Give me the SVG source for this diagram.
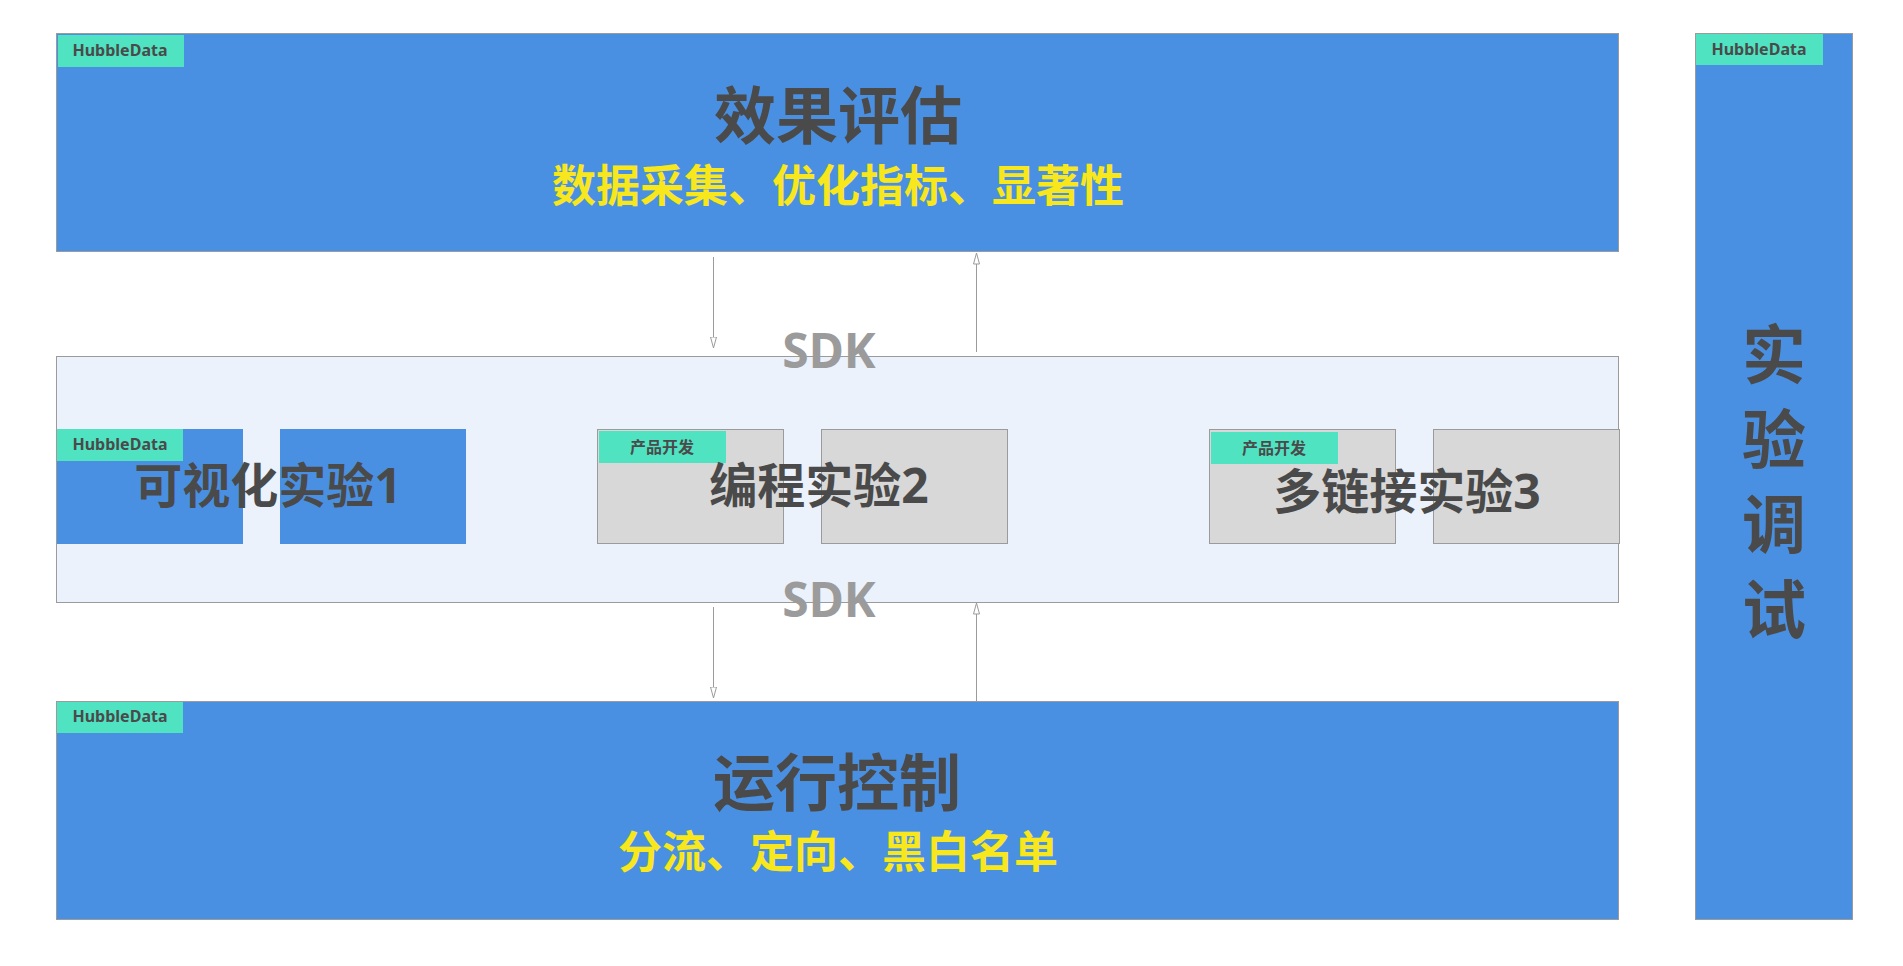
<svg xmlns="http://www.w3.org/2000/svg" width="1903" height="966" viewBox="0 0 1903 966">
<style>
.blue{fill:#4A90E2;stroke:#9B9B9B;stroke-width:1}
.blueb{fill:#4A90E2}
.gray{fill:#D8D8D8;stroke:#9B9B9B;stroke-width:1}
.tag{fill:#50E3C2}
.tagt{font-family:"Noto Sans","Noto Sans CJK SC",sans-serif;font-weight:700;font-size:16px;fill:#4A4A4A;text-anchor:middle}
.tagc{font-family:"Noto Sans CJK SC",sans-serif;font-weight:700;font-size:16px;fill:#4A4A4A;text-anchor:middle}
.title{font-family:"Noto Sans","Noto Sans CJK SC",sans-serif;font-weight:700;font-size:62px;fill:#4A4A4A;text-anchor:middle}
.sub{font-family:"Noto Sans CJK SC",sans-serif;font-weight:700;font-size:44px;fill:#F8E71C;text-anchor:middle}
.mid{font-family:"Noto Sans","Noto Sans CJK SC",sans-serif;font-weight:700;font-size:48px;fill:#4A4A4A;text-anchor:middle}
.sdk{font-family:"Noto Sans",sans-serif;font-weight:700;font-size:48px;fill:#9B9B9B;text-anchor:middle}
.vert{font-family:"Noto Sans CJK SC",sans-serif;font-weight:700;font-size:64px;fill:#4A4A4A;text-anchor:middle}
.conn{stroke:#9B9B9B;stroke-width:1;fill:none;marker-end:url(#arr)}
</style>
<defs>
<marker id="arr" viewBox="0 0 12 8" refX="11.5" refY="4" markerUnits="userSpaceOnUse" markerWidth="12" markerHeight="8" orient="auto">
<path d="M0.5,1 L11.5,4 L0.5,7 Z" fill="#FFFFFF" stroke="#9B9B9B" stroke-width="1"/>
</marker>
</defs>
<rect x="0" y="0" width="1903" height="966" fill="#FFFFFF"/>

<g id="effect-eval">
<rect class="blue" x="56.5" y="33.5" width="1562" height="218"/>
<rect class="tag" x="58" y="35" width="126" height="32"/>
<text class="tagt" x="120" y="56">HubbleData</text>
<text class="title" x="838" y="139">效果评估</text>
<text class="sub" x="838" y="202">数据采集、优化指标、显著性</text>
</g>

<g id="sdk-layer">
<rect x="56.5" y="356.5" width="1562" height="246" fill="#EBF2FC" stroke="#9B9B9B" stroke-width="1"/>
</g>

<g id="exp1">
<rect class="blueb" x="57" y="429" width="186" height="115"/>
<rect class="blueb" x="280" y="429" width="186" height="115"/>
<rect class="tag" x="57" y="429" width="126" height="32"/>
<text class="tagt" x="120" y="450">HubbleData</text>
<text class="mid" x="268" y="503">可视化实验1</text>
</g>

<g id="exp2">
<rect class="gray" x="597.5" y="429.5" width="186" height="114"/>
<rect class="gray" x="821.5" y="429.5" width="186" height="114"/>
<rect class="tag" x="599" y="431" width="127" height="32"/>
<text class="tagc" x="662" y="453">产品开发</text>
<text class="mid" x="819" y="503">编程实验2</text>
</g>

<g id="exp3">
<rect class="gray" x="1209.5" y="429.5" width="186" height="114"/>
<rect class="gray" x="1433.5" y="429.5" width="186" height="114"/>
<rect class="tag" x="1211" y="432" width="127" height="32"/>
<text class="tagc" x="1274" y="454">产品开发</text>
<text class="mid" x="1407" y="509">多链接实验3</text>
</g>

<g id="run-control">
<rect class="blue" x="56.5" y="701.5" width="1562" height="218"/>
<rect class="tag" x="57" y="702" width="126" height="31"/>
<text class="tagt" x="120" y="722">HubbleData</text>
<text class="title" x="837" y="806">运行控制</text>
<text class="sub" x="838" y="868">分流、定向、黑白名单</text>
</g>

<g id="exp-debug">
<rect class="blue" x="1695.5" y="33.5" width="157" height="886"/>
<rect class="tag" x="1696" y="34" width="127" height="31"/>
<text class="tagt" x="1759" y="55">HubbleData</text>
<text class="vert" x="1774" y="378">实</text>
<text class="vert" x="1774" y="463">验</text>
<text class="vert" x="1774" y="548">调</text>
<text class="vert" x="1774" y="633">试</text>
</g>

<g id="connectors">
<line class="conn" x1="713.5" y1="257" x2="713.5" y2="348"/>
<line class="conn" x1="976.5" y1="352" x2="976.5" y2="253"/>
<line class="conn" x1="713.5" y1="607" x2="713.5" y2="698"/>
<line class="conn" x1="976.5" y1="701" x2="976.5" y2="603"/>
</g>

<g id="sdk-labels">
<text class="sdk" x="829" y="368">SDK</text>
<text class="sdk" x="829" y="617">SDK</text>
</g>
</svg>
